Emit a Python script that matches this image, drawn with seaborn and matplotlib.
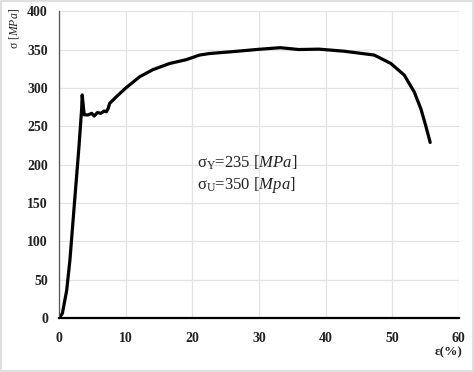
import matplotlib
matplotlib.use("Agg")
import matplotlib.pyplot as plt
import seaborn as sns
import pandas as pd

strain = [0.0, 0.5, 1.15, 1.64, 2.39, 2.99, 3.4, 3.48, 3.78, 4.4, 4.9, 5.27, 5.77, 6.27,
          6.77, 7.1, 7.36, 7.6, 8.6, 9.95, 12.1, 14.1, 16.6, 19.1, 21.1, 22.6, 26.0,
          30.0, 33.2, 36.0, 39.0, 42.8, 47.3, 49.8, 51.8, 53.3, 54.3, 55.0, 55.7]
stress = [0, 6, 36, 76, 158, 223, 273, 291, 265, 265, 267, 263.5, 268, 267,
          270, 269, 273, 280, 288.6, 299.5, 314.7, 324, 332, 337, 343, 345, 347.4,
          350.5, 352.6, 350.2, 350.7, 348, 343, 332, 317, 295, 273, 252, 229]
x_ticks = [0, 10, 20, 30, 40, 50, 60]
y_ticks = [0, 50, 100, 150, 200, 250, 300, 350, 400]

sns.set_theme(style="white")
plt.rcParams['font.family'] = ['Liberation Serif', 'DejaVu Serif']
plt.rcParams['mathtext.fontset'] = 'custom'
plt.rcParams['mathtext.rm'] = 'Liberation Serif'
plt.rcParams['mathtext.it'] = 'Liberation Serif:italic'
plt.rcParams['mathtext.bf'] = 'Liberation Serif:bold'

df = pd.DataFrame({"strain": strain, "stress": stress})

fig = plt.figure(figsize=(4.74, 3.72), dpi=100)
ax = fig.add_axes([0.1245, 0.145, 0.8435, 0.8245])
sns.lineplot(data=df, x="strain", y="stress", ax=ax, color="black", linewidth=2.3, sort=False)

ax.set_xlim(0, 60)
ax.set_ylim(0, 400)
ax.set_xticks(x_ticks)
ax.set_yticks(y_ticks)
ax.grid(True, color="#e3e3e3", linewidth=0.9)
ax.set_axisbelow(True)
for s in ["top", "right"]:
    ax.spines[s].set_visible(False)
ax.spines["left"].set_color("#555555")
ax.spines["left"].set_linewidth(0.9)
ax.spines["bottom"].set_color("black")
ax.spines["bottom"].set_linewidth(1.6)
ax.tick_params(axis="both", length=0, labelsize=10, colors="#222222")
ax.tick_params(axis="y", pad=8)
ax.tick_params(axis="x", pad=10)
for lab in ax.get_xticklabels() + ax.get_yticklabels():
    lab.set_fontweight("bold")

ax.set_xlabel("ε(%)", fontsize=9.5, fontweight="bold", color="#222222")
ax.xaxis.set_label_coords(0.975, -0.092)
ax.set_ylabel(r"σ [$\mathit{MPa}$]", fontsize=8.5, color="#222222")
ax.yaxis.set_label_coords(-0.095, 0.945)

ax.text(0.345, 0.505, r"σ$_\mathrm{Y}$=235 [$\mathit{MPa}$]", transform=ax.transAxes,
        fontsize=12, color="#222222", va="center", ha="left")
ax.text(0.345, 0.433, r"σ$_\mathrm{U}$=350 [$\mathit{Mpa}$]", transform=ax.transAxes,
        fontsize=12, color="#222222", va="center", ha="left")

fig.patches.append(plt.Rectangle((0.002, 0.002), 0.996, 0.996, transform=fig.transFigure,
                                 fill=False, edgecolor="#d9d9d9", linewidth=1.2))

fig.savefig("out.png", dpi=100)
